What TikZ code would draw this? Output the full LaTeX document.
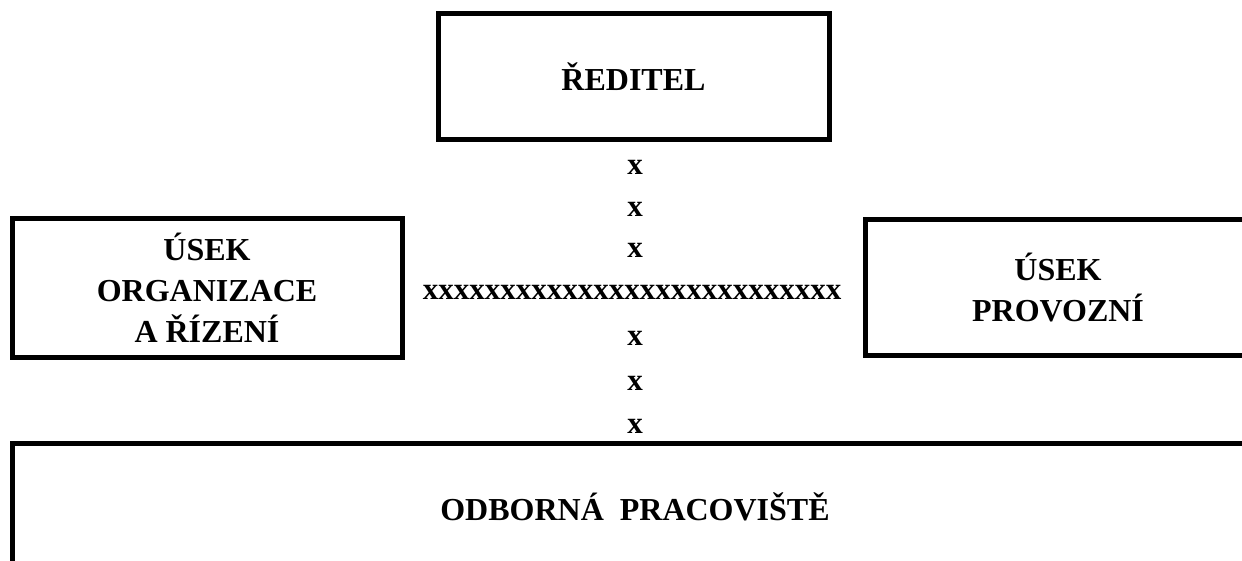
\documentclass[tikz,border=0pt]{standalone}
\usepackage{fontspec}
\setmainfont{Liberation Serif}
\begin{document}
\begin{tikzpicture}[x=1pt,y=-1pt,
  box/.style={draw,line width=5pt,inner sep=0pt,outer sep=0pt,align=center,
    font=\fontsize{32}{41}\selectfont\bfseries},
  mark x/.style={inner sep=0pt,font=\fontsize{31}{36}\selectfont\bfseries}]
\useasboundingbox (0,0) rectangle (1242,561);
\clip (0,0) rectangle (1242,561);
\node[box,minimum width=391pt,minimum height=126pt] (reditel) at (633.5,77) {ŘEDITEL};
\node[box,minimum width=390pt,minimum height=138pt] (organizace) at (207,288) {ÚSEK\\ORGANIZACE\\A ŘÍZENÍ};
\node[box,minimum width=386pt,minimum height=135pt] (provozni) at (1058,287.5) {ÚSEK\\PROVOZNÍ};
\node[box,minimum width=1246pt,minimum height=128pt] (odborna) at (635,507) {ODBORNÁ\ \ PRACOVIŠTĚ};
\node[mark x] (x1) at (635,167) {x};
\node[mark x] (x2) at (635,209) {x};
\node[mark x] (x3) at (635,250) {x};
\node[mark x] (xh) at (632,292) {xxxxxxxxxxxxxxxxxxxxxxxxxxx};
\node[mark x] (x5) at (635,338) {x};
\node[mark x] (x6) at (635,383) {x};
\node[mark x] (x7) at (635,426) {x};
\end{tikzpicture}
\end{document}
